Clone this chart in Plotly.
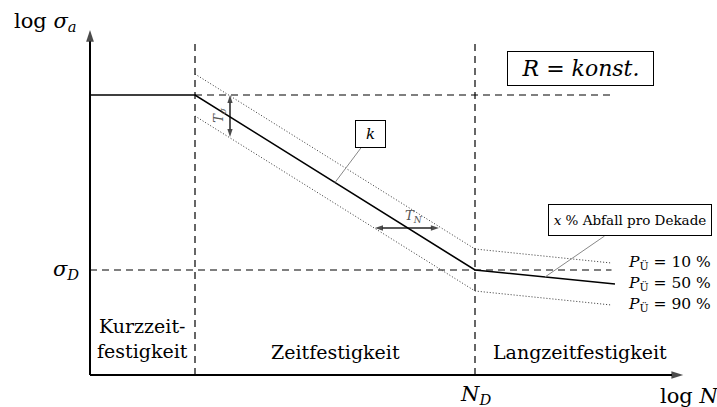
import plotly.graph_objects as go

# Schematic Wöhler (S-N) diagram, both axes logarithmic in arbitrary units
# (one unit = 35 px on both axes)

# median curve, P_Ü = 50 %
log_n_p50 = [0, 3, 11, 15]
log_s_p50 = [8, 8, 3, 2.6]
# scatter band limits
log_n_p10 = [3, 11, 14.9]
log_s_p10 = [8.6, 3.6, 3.2]
log_n_p90 = [3, 11, 14.9]
log_s_p90 = [7.4, 2.4, 2.0]

# characteristic values
log_n_short = 3      # end of low-cycle range
log_n_d = 11         # N_D, knee point
log_s_upper = 8      # static plateau
log_s_d = 3          # sigma_D
ref_end = 14.9       # end of reference lines

band_names = ["10", "50", "90"]
region_names = ["Kurzzeit-<br>festigkeit", "Zeitfestigkeit", "Langzeitfestigkeit"]

SERIF = "DejaVu Serif, Liberation Serif, serif"
BLACK = "#000000"
GREY = "#555555"

fig = go.Figure()

def line(x, y, width=1.2, dash=None, color=BLACK):
    fig.add_trace(go.Scatter(
        x=x, y=y, mode="lines", hoverinfo="skip",
        line=dict(color=color, width=width, dash=dash),
    ))

def arrow(x0, y0, x1, y1, width=2, head=12):
    # line ending in a filled arrow head at (x1, y1)
    fig.add_trace(go.Scatter(
        x=[x0, x1], y=[y0, y1], mode="lines+markers", hoverinfo="skip",
        line=dict(color=BLACK, width=width),
        marker=dict(symbol="arrow", size=[0, head], angleref="previous",
                    color=BLACK, line=dict(width=0)),
    ))

def double_arrow(x0, y0, x1, y1, width=1.3, head=8.5):
    xm, ym = (x0 + x1) / 2, (y0 + y1) / 2
    arrow(xm, ym, x0, y0, width, head)
    arrow(xm, ym, x1, y1, width, head)

# reference lines
dash_pat = "7px,5px"
line([log_n_short, log_n_short], [0, 9.5], dash=dash_pat)
line([log_n_d, log_n_d], [0, 9.5], dash=dash_pat)
line([log_n_short, ref_end], [log_s_upper, log_s_upper], dash=dash_pat)
line([0, ref_end], [log_s_d, log_s_d], dash=dash_pat)

# scatter band
line(log_n_p10, log_s_p10, width=1, dash="1px,2px", color="#333333")
line(log_n_p90, log_s_p90, width=1, dash="1px,2px", color="#333333")

# median curve
line(log_n_p50, log_s_p50, width=1.6)

# leader lines of the callouts
line([7.0, 7.75], [log_s_upper - 0.625 * (7.0 - log_n_short), 6.5], width=1, color="#888888")
line([13.0, 14.7], [log_s_d - 0.1 * (13.0 - log_n_d), 3.97], width=1, color="#888888")

# coordinate axes
arrow(0, 0, 0, 9.86, width=2, head=12.5)
arrow(0, 0, 16.95, 0, width=2, head=12.5)

# scatter widths
double_arrow(4.0, 8.0, 4.0, 6.8)
double_arrow(8.14, 4.2, 9.97, 4.2)

ann = []

def label(x, y, text, size=19, color=BLACK, xa="center", ya="middle", angle=0, **kw):
    ann.append(dict(
        x=x, y=y, xref="x", yref="y", text=text, showarrow=False,
        xanchor=xa, yanchor=ya, textangle=angle,
        font=dict(family=SERIF, size=size, color=color), **kw,
    ))

label(3.71, 7.43, "<i>T</i><sub><i>σ</i></sub>", size=13, color=GREY, angle=-90)
label(9.25, 4.52, "<i>T</i><sub><i>N</i></sub>", size=13, color=GREY)

# axis labels
label(-1.26, 10.09, "log <i>σ</i><sub><i>a</i></sub>", size=21)
label(-0.27, log_s_d, "<i>σ</i><sub><i>D</i></sub>", size=21, xa="right")
label(log_n_d, -0.56, "<i>N</i><sub><i>D</i></sub>", size=21)
label(17.1, -0.6, "log <i>N</i>", size=21)

# regions
label(1.49, 1.05, region_names[0], size=19)
label(7.0, 0.66, region_names[1], size=19)
label(14.0, 0.66, region_names[2], size=19)

# survival probabilities at the band ends
for name, ys in zip(band_names, [log_s_p10, log_s_p50, log_s_p90]):
    label(15.3, ys[-1], f"<i>P</i><sub>Ü</sub> = {name} %", size=15.5, xa="left")

# boxed notes
label(8.0, 6.89, "<i>k</i>", size=15, bordercolor=BLACK, borderwidth=1,
      borderpad=0, width=29, height=26, bgcolor="white")
label(15.44, 4.43, "<i>x</i> % Abfall pro Dekade", size=13.5, bordercolor=BLACK,
      borderwidth=1, borderpad=0, width=162, height=30, bgcolor="white")
label(14.0, 8.77, "<i>R</i> = <i>konst.</i>", size=22, bordercolor=BLACK,
      borderwidth=1, borderpad=0, width=145, height=33, bgcolor="white")

fig.update_layout(
    width=717, height=407, autosize=False,
    margin=dict(l=0, r=0, t=0, b=0),
    paper_bgcolor="white", plot_bgcolor="white",
    showlegend=False,
    xaxis=dict(range=[-90 / 35, 627 / 35], visible=False, fixedrange=True),
    yaxis=dict(range=[-32 / 35, 375 / 35], visible=False, fixedrange=True),
    annotations=ann,
)

fig.write_html("out.html")
